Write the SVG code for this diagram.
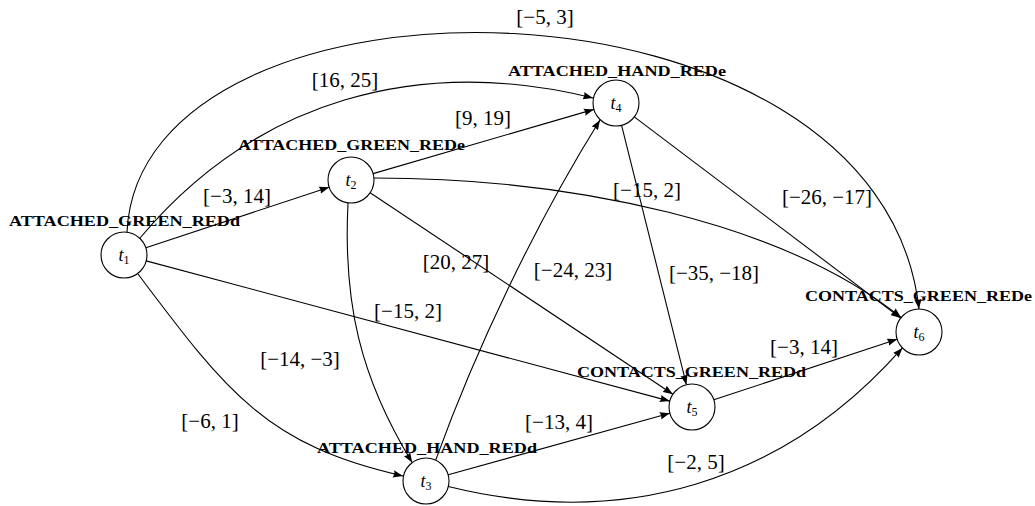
<svg xmlns="http://www.w3.org/2000/svg" width="1035" height="506" viewBox="0 0 1035 506">
<style>
.bg{fill:#fff}
.node circle{fill:#fff;stroke:#000;stroke-width:1.1}
.nt{font-family:"Liberation Serif",serif;font-size:18px;text-anchor:middle;fill:#000}
.nl{font-family:"Liberation Serif",serif;font-size:14px;font-weight:bold;text-anchor:middle;fill:#000}
.e{fill:none;stroke:#000;stroke-width:1.1;marker-end:url(#arr)}
.el{font-family:"Liberation Serif",serif;font-size:21px;text-anchor:middle;fill:#000}
</style>
<defs>
<marker id="arr" markerUnits="userSpaceOnUse" markerWidth="11" markerHeight="8" refX="10" refY="4" orient="auto">
<path d="M0,0.3 L10,4 L0,7.7 Q2,4 0,0.3 z" fill="#000"/>
</marker>
</defs>
<rect class="bg" width="1035" height="506"/>
<g id="connectors">
<path class="e" d="M145.9,247.8 L329.1,187.2"/>
<path class="e" d="M140,238 C255.7,100.1 418.4,54.8 593,98"/>
<path class="e" d="M127,232 C140,-48 880,-43 919,309"/>
<path class="e" d="M146.2,260.9 L669.8,401.1"/>
<path class="e" d="M138,274 C228,394 267.2,445.2 403,476"/>
<path class="e" d="M373.1,173.6 L593.9,109.4"/>
<path class="e" d="M374,178 C574,178 784,223 901,317.5"/>
<path class="e" d="M370.1,192.7 L672.9,394.3"/>
<path class="e" d="M348,203 C343,303 360.2,377.6 412.2,462.6"/>
<path class="e" d="M435.7,460.1 C476.5,347.3 536.4,222 600,120"/>
<path class="e" d="M448.2,474.8 L669.8,413.2"/>
<path class="e" d="M448.3,486.5 C622.9,529.7 783.6,482.9 902.4,347.9"/>
<path class="e" d="M621.6,125.3 L686.4,384.7"/>
<path class="e" d="M634.3,116.9 L900.7,318.1"/>
<path class="e" d="M713.8,399.8 L897.2,339.2"/>
<text class="el" x="545" y="24">[−5, 3]</text>
<text class="el" x="345" y="87">[16, 25]</text>
<text class="el" x="483" y="125">[9, 19]</text>
<text class="el" x="237" y="203">[−3, 14]</text>
<text class="el" x="647" y="197">[−15, 2]</text>
<text class="el" x="827" y="204">[−26, −17]</text>
<text class="el" x="714" y="280">[−35, −18]</text>
<text class="el" x="456" y="269">[20, 27]</text>
<text class="el" x="573" y="277">[−24, 23]</text>
<text class="el" x="408" y="318">[−15, 2]</text>
<text class="el" x="300" y="366">[−14, −3]</text>
<text class="el" x="210" y="428">[−6, 1]</text>
<text class="el" x="559" y="429">[−13, 4]</text>
<text class="el" x="696" y="469">[−2, 5]</text>
<text class="el" x="804" y="354">[−3, 14]</text>
</g>
<g id="t1" class="node">
<circle cx="124" cy="255" r="23"/>
<text class="nt" x="124" y="261"><tspan font-style="italic">t</tspan><tspan font-size="12" dy="3">1</tspan></text>
<text class="nl" x="124.5" y="226" textLength="231" lengthAdjust="spacingAndGlyphs">ATTACHED_GREEN_REDd</text>
</g>
<g id="t2" class="node">
<circle cx="351" cy="180" r="23"/>
<text class="nt" x="351" y="186"><tspan font-style="italic">t</tspan><tspan font-size="12" dy="3">2</tspan></text>
<text class="nl" x="351.5" y="150" textLength="227" lengthAdjust="spacingAndGlyphs">ATTACHED_GREEN_REDe</text>
</g>
<g id="t3" class="node">
<circle cx="426" cy="481" r="23"/>
<text class="nt" x="426" y="487"><tspan font-style="italic">t</tspan><tspan font-size="12" dy="3">3</tspan></text>
<text class="nl" x="427" y="453" textLength="220" lengthAdjust="spacingAndGlyphs">ATTACHED_HAND_REDd</text>
</g>
<g id="t4" class="node">
<circle cx="616" cy="103" r="23"/>
<text class="nt" x="616" y="109"><tspan font-style="italic">t</tspan><tspan font-size="12" dy="3">4</tspan></text>
<text class="nl" x="617" y="76" textLength="218" lengthAdjust="spacingAndGlyphs">ATTACHED_HAND_REDe</text>
</g>
<g id="t5" class="node">
<circle cx="692" cy="407" r="23"/>
<text class="nt" x="692" y="413"><tspan font-style="italic">t</tspan><tspan font-size="12" dy="3">5</tspan></text>
<text class="nl" x="691.5" y="377" textLength="229" lengthAdjust="spacingAndGlyphs">CONTACTS_GREEN_REDd</text>
</g>
<g id="t6" class="node">
<circle cx="919" cy="332" r="23"/>
<text class="nt" x="919" y="338"><tspan font-style="italic">t</tspan><tspan font-size="12" dy="3">6</tspan></text>
<text class="nl" x="918.5" y="301" textLength="227" lengthAdjust="spacingAndGlyphs">CONTACTS_GREEN_REDe</text>
</g>
</svg>
